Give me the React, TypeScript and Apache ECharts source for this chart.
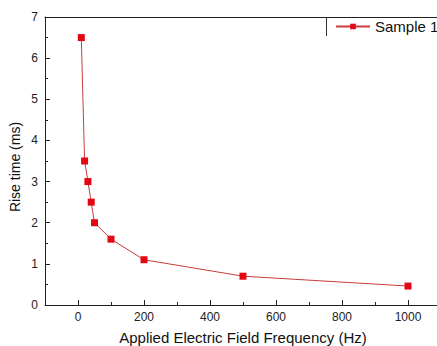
import React, { useEffect, useRef } from "react";
import * as echarts from "echarts";

const frequencies = [10, 20, 30, 40, 50, 100, 200, 500, 1000];
const riseTimes = [6.5, 3.5, 3.0, 2.5, 2.0, 1.6, 1.1, 0.7, 0.46];
const majorXTicks = [0, 200, 400, 600, 800, 1000];
const minorXTicks = [-100, 0, 100, 200, 300, 400, 500, 600, 700, 800, 900, 1000, 1100];
const seriesName = "Sample 1";
const xTitle = "Applied Electric Field Frequency (Hz)";
const yTitle = "Rise time (ms)";

export default function App() {
  const ref = useRef<HTMLDivElement>(null);
  useEffect(() => {
    document.body.style.margin = "0";
    const chart = echarts.init(ref.current!, null, { renderer: "svg" });
    const font = "Arial, 'Liberation Sans', sans-serif";
    chart.setOption({
      animation: false,
      backgroundColor: "#fff",
      textStyle: { fontFamily: font },
      grid: { left: 45, top: 17, right: -4, bottom: 41, show: false, outerBoundsMode: "none", containLabel: false },
      legend: {
        left: 335,
        top: 19,
        padding: 0,
        itemWidth: 34,
        itemHeight: 7,
        textStyle: { fontSize: 15, color: "#111", fontFamily: font },
        data: [seriesName],
      },
      graphic: [
        { type: "line", shape: { x1: 326.5, y1: 17, x2: 326.5, y2: 36 }, style: { stroke: "#333", lineWidth: 1 } },
        {
          type: "text",
          x: 15,
          y: 167,
          rotation: Math.PI / 2,
          style: { text: yTitle, fontSize: 14, fill: "#111", fontFamily: font, align: "center", verticalAlign: "middle" },
        },
      ],
      xAxis: [
        {
          type: "value",
          min: -100,
          max: 1100,
          name: xTitle,
          nameLocation: "middle",
          nameGap: 25,
          nameTextStyle: { fontSize: 15, color: "#111", fontFamily: font },
          axisLine: { show: true, onZero: false, lineStyle: { color: "#222", width: 1 } },
          axisTick: { show: true, inside: true, length: 3, customValues: minorXTicks, lineStyle: { color: "#222" } },
          axisLabel: {
            fontSize: 12,
            color: "#222",
            margin: 6,
            customValues: majorXTicks,
            formatter: (v: number) => String(v),
          },
          splitLine: { show: false },
        },
        {
          type: "value",
          min: -100,
          max: 1100,
          position: "bottom",
          axisLine: { show: false, onZero: false },
          axisTick: { show: true, inside: true, length: 5, customValues: majorXTicks, lineStyle: { color: "#222" } },
          axisLabel: { show: false },
          splitLine: { show: false },
        },
        {
          type: "value",
          min: -100,
          max: 1100,
          position: "top",
          axisLine: { show: true, onZero: false, lineStyle: { color: "#222", width: 1 } },
          axisTick: { show: false },
          axisLabel: { show: false },
          splitLine: { show: false },
        },
      ],
      yAxis: {
        type: "value",
        min: 0,
        max: 7,
        interval: 1,
        axisLine: { show: true, onZero: false, lineStyle: { color: "#222", width: 1 } },
        axisTick: { show: true, inside: true, length: 5, lineStyle: { color: "#222" } },
        minorTick: { show: true, splitNumber: 2, length: 3, lineStyle: { color: "#222" } },
        axisLabel: { fontSize: 12, color: "#222", margin: 7 },
        splitLine: { show: false },
      },
      series: [
        {
          name: seriesName,
          type: "line",
          xAxisIndex: 0,
          data: frequencies.map((f, i) => [f, riseTimes[i]]),
          symbol: "rect",
          symbolSize: 7,
          lineStyle: { color: "#c83c3c", width: 1 },
          itemStyle: { color: "#e30613" },
        },
      ],
    });
    return () => chart.dispose();
  }, []);
  return <div ref={ref} style={{ position: "absolute", left: 0, top: 0, width: 437, height: 346 }} />;
}
